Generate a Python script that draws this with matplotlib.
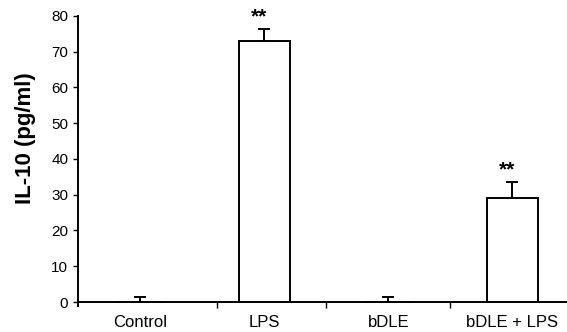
import matplotlib
matplotlib.use('Agg')
import matplotlib.pyplot as plt
import numpy as np

groups = ['Control', 'LPS', 'bDLE', 'bDLE + LPS']
il10_mean = [0.0, 73.0, 0.0, 29.0]
il10_sem = [1.5, 3.3, 1.5, 4.5]
stars = ['', '**', '', '**']

plt.rcParams['font.family'] = ['Liberation Sans', 'DejaVu Sans']

fig = plt.figure(figsize=(5.67, 3.32), dpi=100)
ax = fig.add_axes([0.1376, 0.0795, 0.8624, 0.873])

x = np.arange(len(groups))
ax.bar(x, il10_mean, width=0.41, color='white', edgecolor='black', linewidth=1.4, zorder=2)
ax.errorbar(x, il10_mean, yerr=[np.zeros(len(x)), il10_sem], fmt='none',
            ecolor='black', elinewidth=1.4, capsize=4, capthick=1.4, zorder=3)

for xi, m, e, s in zip(x, il10_mean, il10_sem, stars):
    if s:
        ax.text(xi - 0.04, m + e + 0.8, s, ha='center', va='bottom',
                fontsize=15, fontweight='bold')

ax.set_xlim(-0.5, 3.44)
ax.set_ylim(-1, 80)
ax.set_yticks(np.arange(0, 81, 10))
ax.set_xticks(x)
ax.set_xticklabels(groups)
ax.set_xticks([0.62, 1.5, 2.5], minor=True)

ax.spines['top'].set_visible(False)
ax.spines['right'].set_visible(False)
ax.spines['bottom'].set_position(('data', 0))
ax.spines['left'].set_linewidth(1.4)
ax.spines['bottom'].set_linewidth(1.4)

ax.tick_params(axis='y', direction='out', length=3.5, width=1, labelsize=11, pad=3.5)
ax.tick_params(axis='x', which='major', length=0, labelsize=12, pad=9)
ax.tick_params(axis='x', which='minor', direction='out', length=4, width=1)

ax.set_ylabel('IL-10 (pg/ml)', fontsize=16, fontweight='bold')
ax.yaxis.set_label_coords(-0.085, 0.578)

fig.savefig('out.png', dpi=100)
